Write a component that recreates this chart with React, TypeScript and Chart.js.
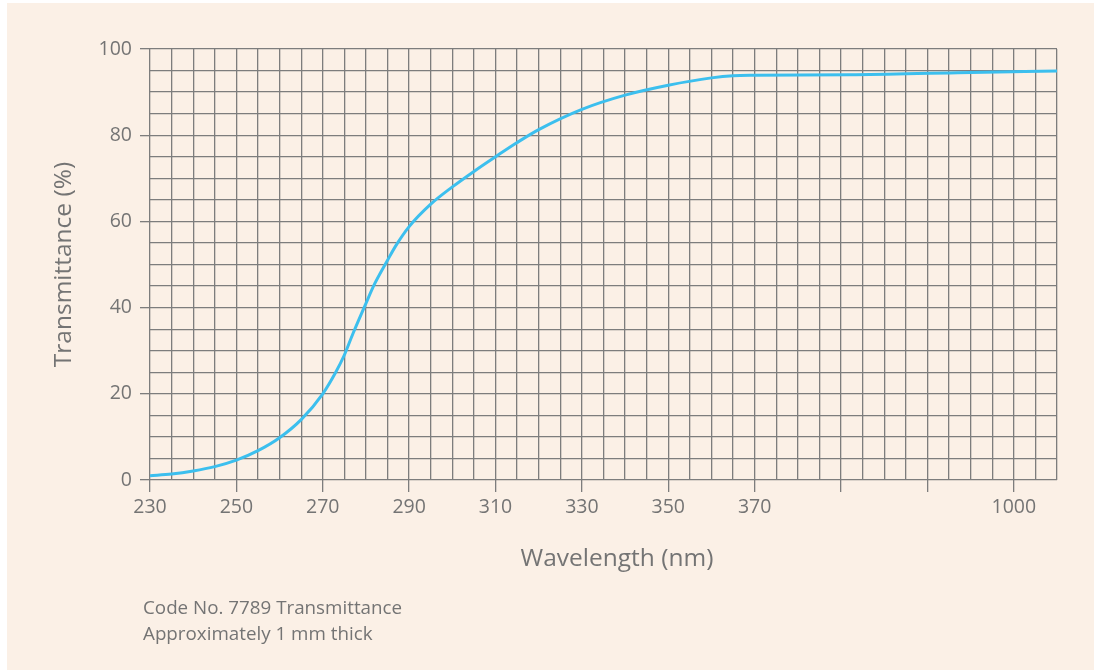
import React, { useEffect, useRef } from "react";
import { Chart, registerables } from "chart.js";

Chart.register(...registerables);

// Axis positions (nm for 230–370; beyond 370 the axis is compressed, 430 shows "1000")
const axisPositions = [230, 235, 240, 245, 250, 255, 260, 265, 270, 273, 275, 277, 280, 282, 285, 287, 290, 295, 300, 305, 310, 315, 320, 330, 340, 350, 360, 365, 370, 392, 417, 440];
const transmittance = [1.0, 1.4, 2.1, 3.1, 4.6, 6.8, 9.8, 14.0, 20.0, 25.0, 29.0, 34.0, 41.0, 45.5, 51.0, 54.5, 58.8, 64.0, 68.0, 71.6, 75.0, 78.3, 81.3, 86.0, 89.3, 91.6, 93.3, 93.8, 93.9, 94.0, 94.5, 94.9];

// Tick labels at major tick positions
const majorTickPositions = [230, 250, 270, 290, 310, 330, 350, 370, 390, 410, 430];
const majorTickLabels = ["230", "250", "270", "290", "310", "330", "350", "370", "", "", "1000"];
const yMajorTicks = [0, 20, 40, 60, 80, 100];
const xTitle = "Wavelength (nm)";
const yTitle = "Transmittance (%)";
const captionLines = ["Code No. 7789 Transmittance", "Approximately 1 mm thick"];

const BG = "#fbf0e6";
const GRID = "#7d7d7d";
const TEXT = "#747474";
const LINE = "#3cbfee";
const FONT = "'Open Sans', 'Noto Sans', sans-serif";

export default function App() {
  const ref = useRef<HTMLCanvasElement | null>(null);

  useEffect(() => {
    document.body.style.margin = "0";
    const canvas = ref.current;
    if (!canvas) return;
    const chart = new Chart(canvas, {
      type: "line",
      data: {
        datasets: [
          {
            data: axisPositions.map((x, i) => ({ x, y: transmittance[i] })),
            borderColor: LINE,
            borderWidth: 3,
            pointRadius: 0,
            cubicInterpolationMode: "monotone",
            fill: false,
          },
        ],
      },
      options: {
        responsive: false,
        animation: false,
        layout: { padding: { left: 49, top: 49, right: 37, bottom: 99 } },
        plugins: { legend: { display: false }, tooltip: { enabled: false } },
        scales: {
          x: {
            type: "linear",
            min: 230,
            max: 440,
            afterFit: (s: any) => {
              s.height = 91;
            },
            afterBuildTicks: (s: any) => {
              const t: any[] = [];
              for (let v = 230; v <= 440; v += 5) t.push({ value: v });
              s.ticks = t;
            },
            border: { display: false },
            grid: {
              color: GRID,
              lineWidth: 1.3,
              tickLength: 12,
              tickColor: (ctx: any) =>
                ctx.tick && majorTickPositions.includes(ctx.tick.value) ? GRID : "rgba(0,0,0,0)",
            },
            ticks: {
              autoSkip: false,
              maxRotation: 0,
              padding: 4,
              color: TEXT,
              font: { family: FONT, size: 19.5 },
              callback: (v: any) => {
                const i = majorTickPositions.indexOf(Number(v));
                return i >= 0 ? majorTickLabels[i] : "";
              },
            },
            title: { display: false },
          },
          y: {
            min: 0,
            max: 100,
            afterFit: (s: any) => {
              s.width = 101;
            },
            afterBuildTicks: (s: any) => {
              const t: any[] = [];
              for (let v = 0; v <= 100; v += 5) t.push({ value: v });
              s.ticks = t;
            },
            border: { display: false },
            grid: {
              color: GRID,
              lineWidth: 1.3,
              tickLength: 10,
              tickColor: (ctx: any) =>
                ctx.tick && yMajorTicks.includes(ctx.tick.value) ? GRID : "rgba(0,0,0,0)",
            },
            ticks: {
              autoSkip: false,
              padding: 8,
              color: TEXT,
              font: { family: FONT, size: 19.5 },
              callback: (v: any) => (yMajorTicks.includes(Number(v)) ? String(v) : ""),
            },
            title: {
              display: true,
              text: yTitle,
              color: TEXT,
              font: { family: FONT, size: 24.5 },
              padding: { top: 0, bottom: 0 },
            },
          },
        },
      },
    });
    return () => chart.destroy();
  }, []);

  return (
    <div style={{ position: "relative", width: 1094, height: 670, background: "#ffffff", overflow: "hidden" }}>
      <div style={{ position: "absolute", left: 7, top: 3, right: 0, bottom: 0, background: BG }} />
      <canvas ref={ref} width={1094} height={670} style={{ position: "absolute", left: 0, top: 0 }} />
      <div
        style={{
          position: "absolute",
          left: 417,
          width: 400,
          top: 540,
          textAlign: "center",
          fontFamily: FONT,
          fontSize: 24.5,
          lineHeight: "34px",
          color: TEXT,
        }}
      >
        {xTitle}
      </div>
      <div
        style={{
          position: "absolute",
          left: 143,
          top: 594,
          fontFamily: FONT,
          fontSize: 18.8,
          lineHeight: "26px",
          color: TEXT,
        }}
      >
        {captionLines.map((l) => (
          <div key={l}>{l}</div>
        ))}
      </div>
    </div>
  );
}
